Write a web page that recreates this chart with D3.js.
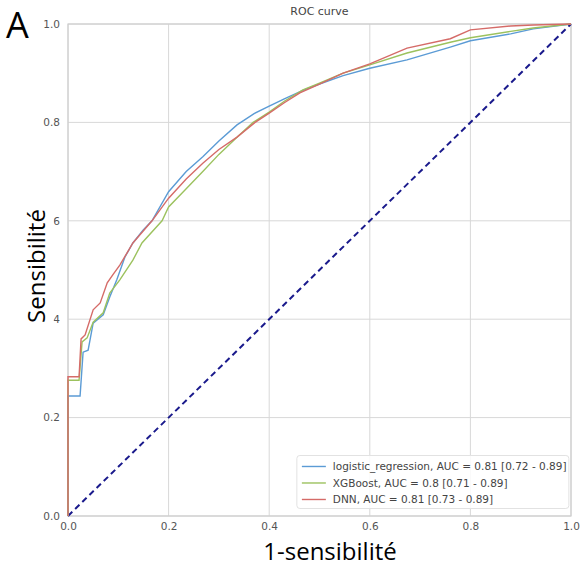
<!DOCTYPE html>
<html lang="fr">
<head>
<meta charset="UTF-8">
<title>ROC curve</title>
<script src="https://d3js.org/d3.v7.min.js"></script>
<style>
  body { margin: 0; background: #fff; }
  .grid line { stroke: #d8d8d8; stroke-width: 1; }
  .tick text { font-family: "DejaVu Sans", sans-serif; font-size: 10.5px; fill: #555; }
  .roc { fill: none; stroke-width: 1.4; }
</style>
</head>
<body>
<svg width="581" height="572"></svg>
<script>
// ROC points
const lrX  = [0, 0, 0.024, 0.03, 0.04, 0.05, 0.07, 0.083, 0.097, 0.113, 0.129, 0.15, 0.167, 0.2, 0.235, 0.268, 0.3, 0.336, 0.37, 0.4, 0.43, 0.467, 0.5, 0.547, 0.6, 0.674, 0.76, 0.8, 0.88, 0.925, 1];
const lrY  = [0, 0.244, 0.244, 0.333, 0.337, 0.392, 0.409, 0.445, 0.48, 0.526, 0.555, 0.582, 0.6, 0.659, 0.7, 0.73, 0.762, 0.795, 0.818, 0.833, 0.848, 0.865, 0.878, 0.895, 0.91, 0.927, 0.953, 0.966, 0.98, 0.99, 1];
const xgbX = [0, 0, 0.022, 0.028, 0.038, 0.05, 0.07, 0.083, 0.103, 0.129, 0.147, 0.187, 0.2, 0.235, 0.268, 0.3, 0.336, 0.368, 0.4, 0.43, 0.467, 0.5, 0.547, 0.6, 0.674, 0.76, 0.8, 0.88, 0.925, 1];
const xgbY = [0, 0.276, 0.276, 0.354, 0.362, 0.394, 0.413, 0.453, 0.48, 0.52, 0.555, 0.6, 0.628, 0.665, 0.7, 0.735, 0.77, 0.8, 0.821, 0.843, 0.866, 0.88, 0.9, 0.917, 0.941, 0.963, 0.972, 0.985, 0.992, 1];
const dnnX = [0, 0, 0.022, 0.026, 0.034, 0.05, 0.064, 0.078, 0.089, 0.103, 0.121, 0.129, 0.167, 0.2, 0.235, 0.268, 0.3, 0.336, 0.372, 0.4, 0.43, 0.461, 0.5, 0.547, 0.6, 0.674, 0.76, 0.8, 0.88, 0.925, 1];
const dnnY = [0, 0.283, 0.283, 0.36, 0.368, 0.419, 0.433, 0.474, 0.49, 0.51, 0.541, 0.555, 0.6, 0.646, 0.685, 0.717, 0.745, 0.77, 0.8, 0.819, 0.84, 0.86, 0.878, 0.9, 0.919, 0.951, 0.97, 0.988, 0.996, 0.998, 1];

const seriesNames = [
  "logistic_regression, AUC = 0.81 [0.72 - 0.89]",
  "XGBoost, AUC = 0.8 [0.71 - 0.89]",
  "DNN, AUC = 0.81 [0.73 - 0.89]"
];
const seriesColors = ["#5b9bd5", "#9cc25e", "#d56b68"];
const ticks = [0, 0.2, 0.4, 0.6, 0.8, 1.0];

const series = [
  { name: seriesNames[0], color: seriesColors[0], pts: lrX.map((v, i) => [v, lrY[i]]) },
  { name: seriesNames[1], color: seriesColors[1], pts: xgbX.map((v, i) => [v, xgbY[i]]) },
  { name: seriesNames[2], color: seriesColors[2], pts: dnnX.map((v, i) => [v, dnnY[i]]) }
];

const svg = d3.select("svg");
const margin = { top: 24, right: 10, bottom: 56, left: 68 };
const width = 581 - margin.left - margin.right;
const height = 572 - margin.top - margin.bottom;

const g = svg.append("g")
  .attr("transform", `translate(${margin.left},${margin.top})`);

const x = d3.scaleLinear().domain([0, 1]).range([0, width]);
const y = d3.scaleLinear().domain([0, 1]).range([height, 0]);

// grid
g.append("g").attr("class", "grid")
  .selectAll("line.v").data(ticks).join("line")
  .attr("x1", d => x(d)).attr("x2", d => x(d))
  .attr("y1", 0).attr("y2", height);
g.append("g").attr("class", "grid")
  .selectAll("line.h").data(ticks).join("line")
  .attr("x1", 0).attr("x2", width)
  .attr("y1", d => y(d)).attr("y2", d => y(d));

// axes (tick labels only)
const xAxis = g.append("g")
  .attr("transform", `translate(0,${height})`)
  .call(d3.axisBottom(x).tickValues(ticks).tickFormat(d3.format(".1f")).tickSize(0).tickPadding(7));
const yAxis = g.append("g")
  .call(d3.axisLeft(y).tickValues(ticks).tickFormat(d3.format(".1f")).tickSize(0).tickPadding(8));
xAxis.select(".domain").remove();
yAxis.select(".domain").remove();

// plot frame
g.append("rect")
  .attr("width", width).attr("height", height)
  .attr("fill", "none").attr("stroke", "#cfcfcf").attr("stroke-width", 1.2);

// chance line
g.append("line")
  .attr("x1", x(0)).attr("y1", y(0))
  .attr("x2", x(1)).attr("y2", y(1))
  .attr("stroke", "#1a1a8c").attr("stroke-width", 2)
  .attr("stroke-dasharray", "6,4");

const line = d3.line().x(d => x(d[0])).y(d => y(d[1]));
g.selectAll("path.roc").data(series).join("path")
  .attr("class", "roc")
  .attr("stroke", d => d.color)
  .attr("d", d => line(d.pts));

// title
svg.append("text")
  .attr("x", margin.left + width / 2).attr("y", 15)
  .attr("text-anchor", "middle")
  .attr("font-family", "DejaVu Sans, sans-serif").attr("font-size", 11).attr("fill", "#444")
  .text("ROC curve");

// legend
const lg = g.append("g").attr("transform", `translate(${x(0.455)},${y(0.123)})`);
lg.append("rect")
  .attr("width", 272).attr("height", 53).attr("rx", 3)
  .attr("fill", "#fff").attr("fill-opacity", 0.85)
  .attr("stroke", "#e2e2e2");
series.forEach((s, i) => {
  const yy = 11 + i * 16.5;
  lg.append("line").attr("x1", 5).attr("x2", 29).attr("y1", yy).attr("y2", yy)
    .attr("stroke", s.color).attr("stroke-width", 1.4);
  lg.append("text").attr("x", 36).attr("y", yy + 3.8)
    .attr("font-family", "DejaVu Sans, sans-serif").attr("font-size", 10.5).attr("fill", "#444")
    .text(s.name);
});

// axis labels
svg.append("text")
  .attr("x", 330).attr("y", 560)
  .attr("text-anchor", "middle")
  .attr("font-family", "'Open Sans', Lato, sans-serif").attr("font-size", 24).attr("fill", "#000")
  .text("1-sensibilité");

// the pasted y label hides the "0." of the middle tick labels
const yl = svg.append("g").attr("transform", "translate(45,266) rotate(-90)");
yl.append("rect").attr("x", -62).attr("y", -26).attr("width", 124).attr("height", 34.5).attr("fill", "#fff");
yl.append("text")
  .attr("text-anchor", "middle")
  .attr("font-family", "'Open Sans', Lato, sans-serif").attr("font-size", 24).attr("fill", "#000")
  .text("Sensibilité");

// panel letter
svg.append("text")
  .attr("x", 6).attr("y", 38)
  .attr("font-family", "'Open Sans', Lato, sans-serif").attr("font-size", 36).attr("fill", "#000")
  .text("A");
</script>
</body>
</html>
